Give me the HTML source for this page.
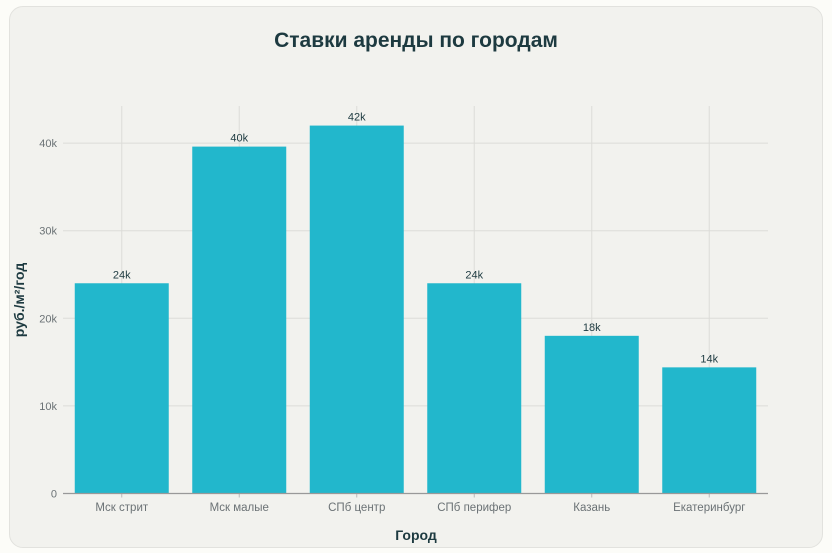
<!DOCTYPE html>
<html><head><meta charset="utf-8"><style>
body{margin:0;background:#fcfcf8;width:832px;height:553px;overflow:hidden;font-family:"Liberation Sans","DejaVu Sans",sans-serif}
#card{position:absolute;left:9px;top:6px;width:812px;height:540px;background:#f2f2ee;border:1px solid #e2e2de;border-radius:14px}
svg{position:absolute;left:0;top:0}
</style></head><body>
<div id="card"></div>
<svg id="chart" width="832" height="553">
<text x="416" y="47" text-anchor="middle" font-size="21" font-weight="bold" fill="#1d3a40">Ставки аренды по городам</text>
<text x="416" y="540" text-anchor="middle" font-size="14" font-weight="bold" fill="#1d3a40">Город</text>
<text transform="translate(24,300) rotate(-90)" text-anchor="middle" font-size="14" font-weight="bold" fill="#1d3a40">руб./м²/год</text>
</svg>
<script>
const categories=["Мск стрит","Мск малые","СПб центр","СПб перифер","Казань","Екатеринбург"];
const values=[24000,39600,42000,24000,18000,14400];
const valueLabels=["24k","40k","42k","24k","18k","14k"];
const yTicks=[0,10000,20000,30000,40000];
const yTickLabels=["0","10k","20k","30k","40k"];
const NS="http://www.w3.org/2000/svg";
const svg=document.getElementById('chart');
const X0=63,X1=768,Y0=493.5,YT=106;
const bw=(X1-X0)/categories.length;
const y=v=>Y0-v*(87.6/10000);
const xc=i=>X0+bw*(i+0.5);
function mk(t,a){const e=document.createElementNS(NS,t);for(const k in a)e.setAttribute(k,a[k]);svg.appendChild(e);return e;}
yTicks.forEach((t,i)=>{
 if(t>0){const g=mk('line',{x1:X0,x2:X1,y1:y(t),y2:y(t),stroke:'#dcdcd8','stroke-width':1});
 
 }
 const l=mk('text',{x:X0-6,y:y(t)+4,'text-anchor':'end','font-size':11,fill:'#6b7275'});l.textContent=yTickLabels[i];
 
 
});
categories.forEach((c,i)=>{
 const g=mk('line',{x1:xc(i),x2:xc(i),y1:YT,y2:Y0,stroke:'#dcdcd8','stroke-width':1});
 
 
});
categories.forEach((c,i)=>{
 const w=94;
 const r=mk('rect',{x:xc(i)-w/2,y:y(values[i]),width:w,height:Y0-y(values[i]),fill:'#22b7cc'});
 
 
 const v=mk('text',{x:xc(i),y:y(values[i])-5,'text-anchor':'middle','font-size':11,fill:'#1d3a40'});v.textContent=valueLabels[i];
 
 
 const l=mk('text',{x:xc(i),y:511,'text-anchor':'middle','font-size':11.5,fill:'#6b7275'});l.textContent=c;
 
 
 const tk=mk('line',{x1:xc(i),x2:xc(i),y1:Y0,y2:Y0+4,stroke:'#bbb'});
 
 
});
const ax=mk('line',{x1:X0,x2:X1,y1:Y0,y2:Y0,stroke:'#999','stroke-width':1.2});


</script>
</body></html>
